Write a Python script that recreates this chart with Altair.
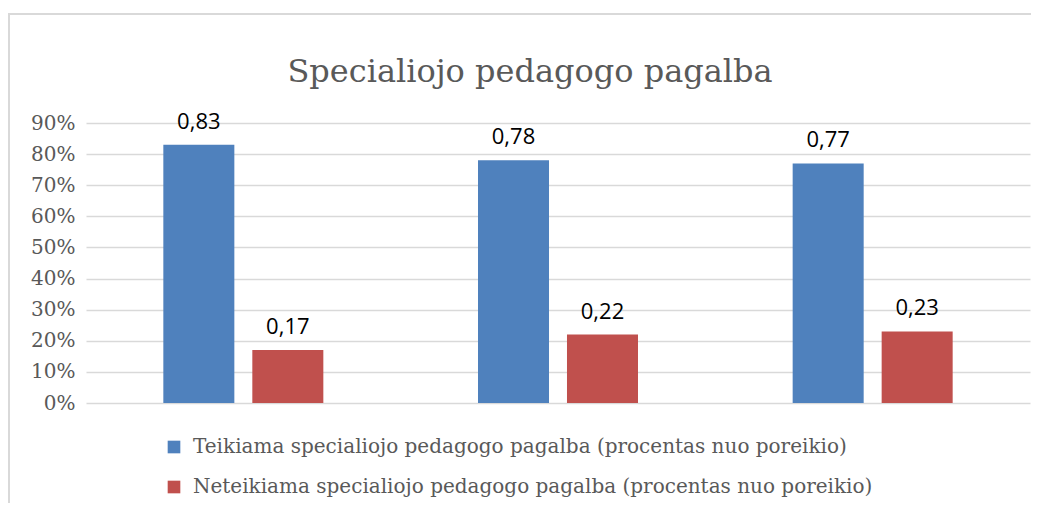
import altair as alt
import pandas as pd

groups = ["1", "2", "3"]
series = [
    "Teikiama specialiojo pedagogo pagalba (procentas nuo poreikio)",
    "Neteikiama specialiojo pedagogo pagalba (procentas nuo poreikio)",
]
provided = [0.83, 0.78, 0.77]
not_provided = [0.17, 0.22, 0.23]
colors = ["#4f81bd", "#c0504d"]
y_ticks = [0, 0.1, 0.2, 0.3, 0.4, 0.5, 0.6, 0.7, 0.8, 0.9]

rows = []
for g, a, b in zip(groups, provided, not_provided):
    rows.append({"group": g, "series": series[0], "value": a})
    rows.append({"group": g, "series": series[1], "value": b})
df = pd.DataFrame(rows)
df["label"] = df["value"].map(lambda v: f"{v:.2f}".replace(".", ","))

SERIF = "DejaVu Serif"
W, H = 944, 280

x = alt.X("group:N", axis=None, sort=groups,
          scale=alt.Scale(paddingInner=0, paddingOuter=0))
xo = alt.XOffset("series:N", sort=series,
                 scale=alt.Scale(paddingInner=0.202, paddingOuter=0.869))
y = alt.Y("value:Q", title=None,
          scale=alt.Scale(domain=[0, 0.9], nice=False),
          axis=alt.Axis(values=y_ticks, format=".0%", ticks=False, domain=False,
                        labelFont=SERIF, labelFontSize=20, labelColor="#595959",
                        labelPadding=11, gridColor="#d9d9d9", gridWidth=1.5))

base = alt.Chart(df)

bars = base.mark_bar().encode(
    x=x, xOffset=xo, y=y,
    color=alt.Color("series:N", sort=series,
                    scale=alt.Scale(domain=series, range=colors),
                    legend=alt.Legend(title=None, orient="none", legendX=78, legendY=314,
                                      direction="vertical", symbolType="square",
                                      symbolSize=160, symbolStrokeWidth=0,
                                      labelFont=SERIF, labelFontSize=20,
                                      labelColor="#595959", rowPadding=20,
                                      labelLimit=900, padding=0, labelOffset=9)),
)

labels = base.mark_text(baseline="alphabetic", dy=-16, font="Open Sans", fontSize=22,
                        color="#000000").encode(
    x=x, xOffset=xo, y=y, text="label:N"
)

border_df = pd.DataFrame({"k": [0]})
top_border = alt.Chart(border_df).mark_rule(color="#d9d9d9", strokeWidth=2).encode(
    x=alt.value(-78), x2=alt.value(W + 1), y=alt.value(-109)
)
left_border = alt.Chart(border_df).mark_rule(color="#d9d9d9", strokeWidth=2).encode(
    x=alt.value(-77), y=alt.value(-109), y2=alt.value(H + 110)
)

chart = alt.layer(bars, labels, top_border, left_border).properties(
    width=W, height=H,
    title=alt.TitleParams("Specialiojo pedagogo pagalba", font=SERIF, fontSize=32,
                          fontWeight="normal", color="#595959", anchor="middle",
                          baseline="alphabetic", dx=-28, offset=-101),
    autosize=alt.AutoSizeParams(type="none"),
    padding={"left": 78, "top": 115, "right": 1, "bottom": 100},
).configure_view(stroke=None)

chart.save("out.html", embed_options={"renderer": "svg", "actions": False})
